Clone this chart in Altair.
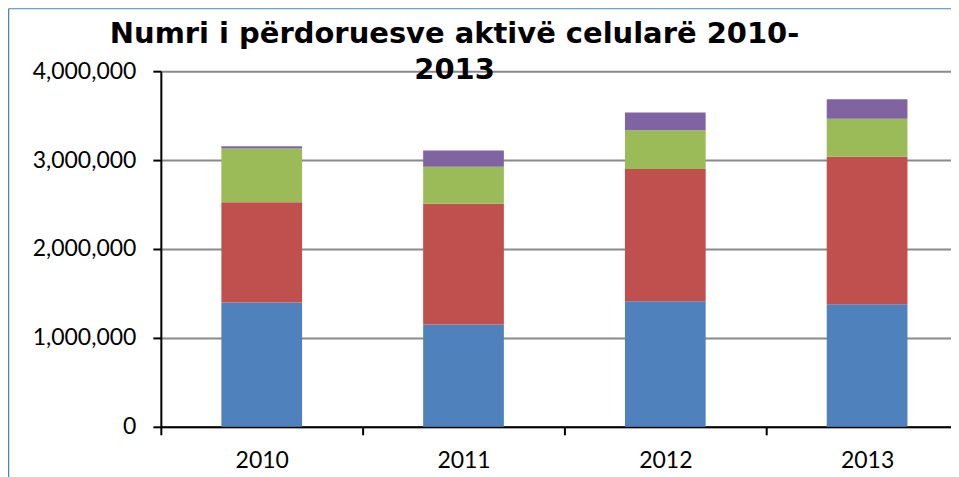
import altair as alt
import pandas as pd

years = ["2010", "2011", "2012", "2013"]
series_names = ["Vodafone", "AMC", "Eagle Mobile", "Plus"]
series_colors = ["#4F81BD", "#C0504D", "#9BBB59", "#8064A2"]
blue_vals = [1397000, 1150000, 1412000, 1379000]
red_vals = [1128000, 1359000, 1487000, 1658000]
green_vals = [606000, 416000, 438000, 427000]
purple_vals = [26000, 184000, 199000, 221000]
y_ticks = [0, 1000000, 2000000, 3000000, 4000000]
title_lines = ["Numri i përdoruesve aktivë celularë 2010-", "2013"]

rows = []
for si, vals in enumerate([blue_vals, red_vals, green_vals, purple_vals]):
    for yi, y in enumerate(years):
        rows.append({"year": y, "series": series_names[si], "rank": si, "value": vals[yi]})
df = pd.DataFrame(rows)

W, H = 808, 356

bars = alt.Chart(df).mark_bar(width=alt.RelativeBandSize(0.4)).encode(
    x=alt.X("year:N", sort=years,
            scale=alt.Scale(paddingInner=0, paddingOuter=0),
            axis=alt.Axis(title=None, labelAngle=0, tickBand="extent", grid=False,
                          domainColor="black", domainWidth=2,
                          tickColor="black", tickWidth=2, tickSize=8,
                          labelFont="Lato", labelFontSize=23, labelColor="black",
                          labelPadding=15)),
    y=alt.Y("value:Q", stack="zero",
            scale=alt.Scale(domain=[0, 4000000], nice=False),
            axis=alt.Axis(title=None, values=y_ticks, format=",.0f",
                          domainColor="black", domainWidth=2,
                          tickColor="black", tickWidth=2, tickSize=8,
                          gridColor="#8a8a8a", gridWidth=2,
                          labelFont="Lato", labelFontSize=23, labelColor="black",
                          labelPadding=17)),
    color=alt.Color("series:N", sort=series_names,
                    scale=alt.Scale(domain=series_names, range=series_colors),
                    legend=None),
    order=alt.Order("rank:Q"),
)

frame_data = alt.Data(values=[{"k": 1}])
left_frame = alt.Chart(frame_data).mark_rule(color="#4F81BD", strokeWidth=1.5).encode(
    x=alt.value(-152.5), y=alt.value(-62.5), y2=alt.value(H + 60))
top_frame = alt.Chart(frame_data).mark_rule(color="#4F81BD", strokeWidth=1).encode(
    x=alt.value(-152.5), x2=alt.value(W + 10), y=alt.value(-62.5))

chart = alt.layer(bars, left_frame, top_frame).properties(
    width=W, height=H,
    autosize=alt.AutoSizeParams(type="none"),
    padding={"left": 153, "top": 63, "right": -17, "bottom": 50},
    title=alt.TitleParams(text=title_lines, font="DejaVu Sans", fontWeight="bold",
                          fontSize=29, color="black", anchor="middle", dx=-110,
                          lineHeight=36, offset=0, dy=77),
    background="white",
).configure_view(stroke=None)

chart.save("out.html", embed_options={"renderer": "svg", "actions": False})
